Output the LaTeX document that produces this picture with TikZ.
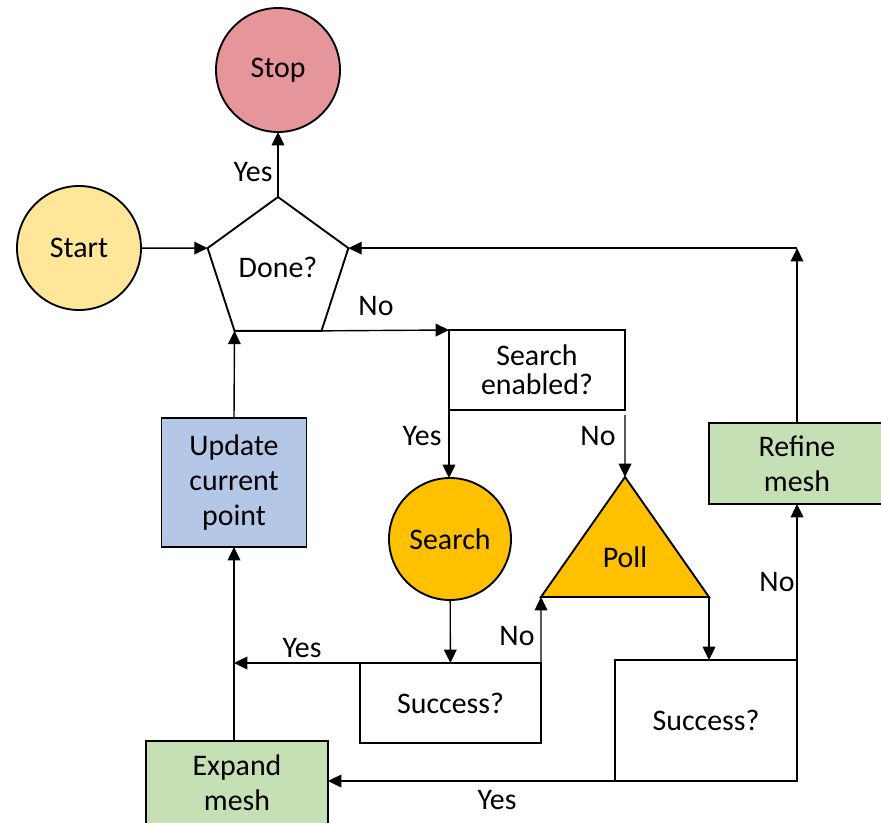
\documentclass[tikz,border=0pt]{standalone}
\usepackage{fontspec}
\setmainfont{Carlito}
\usetikzlibrary{arrows.meta,shapes.geometric}

\definecolor{stopred}{HTML}{E6959A}
\definecolor{startyel}{HTML}{FFE699}
\definecolor{gold}{HTML}{FFC000}
\definecolor{updblue}{HTML}{B4C7E7}
\definecolor{meshgreen}{HTML}{C5E0B4}

\begin{document}
\begin{tikzpicture}[x=0.03cm, y=-0.03cm,
    base/.style={draw, line width=1.6pt, inner sep=0pt, outer sep=0pt,
                 align=center, font=\fontsize{25.5}{30}\selectfont},
    term/.style={base, circle, minimum size=3.72cm},
    box/.style={base, rectangle},
    tall/.style={font=\fontsize{25.5}{30}\selectfont},
    lbl/.style={inner sep=0pt, font=\fontsize{25.5}{30}\selectfont},
    arrow/.style={-{Triangle[length=0.4cm, width=0.38cm]}, line width=1.2pt},
  ]
  \useasboundingbox (0,0) rectangle (881,822);

  \node[term, fill=stopred] (stop) at (278,70) {Stop};
  \node[term, fill=startyel] (start) at (79,248) {Start};
  \node[base, regular polygon, regular polygon sides=5, minimum size=4.44cm] (done) at (278,271) {\raisebox{0.24cm}{Done?}};
  \node[box, minimum width=5.28cm, minimum height=2.4cm, font=\fontsize{25.5}{25}\selectfont] (enab) at (537,370) {Search\\enabled?};
  \node[term, fill=gold, minimum size=3.66cm] (search) at (450,539) {Search};
  \coordinate (pollT) at (625,477);
  \coordinate (pollL) at (541,597);
  \coordinate (pollR) at (709,597);
  \draw[line width=1.6pt, fill=gold] (pollT) -- (pollL) -- (pollR) -- cycle;
  \node[lbl] (poll) at (625,557) {Poll};
  \node[box, tall, fill=meshgreen, minimum width=5.28cm, minimum height=2.43cm] (refine) at (797,463.5) {Refine\\mesh};
  \node[box, tall, fill=updblue, minimum width=4.35cm, minimum height=3.87cm] (upd) at (234,482.5) {Update\\current\\point};
  \node[box, minimum width=5.43cm, minimum height=2.4cm] (succ1) at (450.5,703) {Success?};
  \node[box, minimum width=5.46cm, minimum height=3.63cm] (succ2) at (706,720.5) {Success?};
  \node[box, tall, fill=meshgreen, minimum width=5.46cm, minimum height=2.52cm] (expand) at (237,783) {Expand\\mesh};
  \coordinate (fb) at (done.corner 5 -| succ2.north east);

  \draw[arrow] (start) -- (done.corner 2);
  \draw[arrow] (done.corner 1) -- (stop);
  \draw[arrow] (done.corner 4) -- (enab.north west);
  \draw[arrow] (enab.south west) -- (enab.south west |- search.north);
  \draw[arrow, shorten <=0.15cm] (enab.south east) -- (pollT);
  \draw[arrow] (search) -- (succ1);
  \draw[arrow] (succ1.north east) -- (pollL);
  \draw[arrow] (succ1.north west) -- (succ1.north west -| upd.south);
  \draw[arrow] (pollR) -- (pollR |- succ2.north);
  \draw[arrow] (succ2.north east) -- (succ2.north east |- refine.south);
  \draw[arrow] (succ2.north east |- refine.north) -- (fb);
  \draw[arrow] (fb) -- (done.corner 5);
  \draw[arrow] (succ2.south west) -- (succ2.south west -| expand.east);
  \draw[arrow] (upd.south |- expand.north) -- (upd.south);
  \draw[arrow] (upd.north) -- (done.corner 3);

  \node[lbl] (yStop) at (253,172) {Yes};
  \node[lbl] (nDone) at (376,306) {No};
  \node[lbl] (yEnab) at (422,436) {Yes};
  \node[lbl] (nEnab) at (598,436) {No};
  \node[lbl] (ySucc1) at (302,648) {Yes};
  \node[lbl] (nSucc1) at (517,636) {No};
  \node[lbl] (nSucc2) at (777,582) {No};
  \node[lbl] (ySucc2) at (497,800) {Yes};
\end{tikzpicture}
\end{document}
